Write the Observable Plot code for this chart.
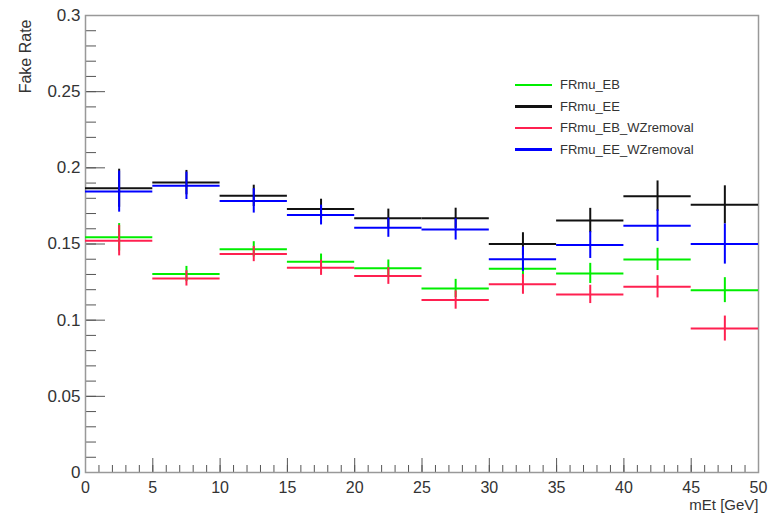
<!DOCTYPE html>
<html>
<head>
<meta charset="utf-8">
<script src="https://cdn.jsdelivr.net/npm/d3@7"></script>
<script src="https://cdn.jsdelivr.net/npm/@observablehq/plot@0.6"></script>
<style>
  html, body { margin: 0; padding: 0; background: #fff; }
  #wrap { position: relative; width: 768px; height: 515px; font-family: "Liberation Sans", Arial, sans-serif; }
  #legend { position: absolute; left: 515px; top: 74px; }
  .row { display: flex; align-items: center; height: 21.5px; }
  .sw { width: 37px; height: 2.5px; margin-right: 8px; }
  .lab { font-size: 13px; color: #333; }
</style>
</head>
<body>
<div id="wrap"></div>
<script>
// Bin lower edges (mEt, GeV), bin width 5
const binLow = [0, 5, 10, 15, 20, 25, 30, 35, 40, 45];
const binWidth = 5;

const seriesNames = ["FRmu_EB", "FRmu_EE", "FRmu_EB_WZremoval", "FRmu_EE_WZremoval"];
const seriesColors = ["#00ee00", "#111111", "#ff2050", "#0000ff"];

const frEB      = [0.1544, 0.1303, 0.1465, 0.1384, 0.1340, 0.1208, 0.1338, 0.1307, 0.1399, 0.1197];
const frEBerr   = [0.0090, 0.0050, 0.0050, 0.0050, 0.0055, 0.0060, 0.0060, 0.0066, 0.0073, 0.0082];
const frEE      = [0.1866, 0.1903, 0.1816, 0.1730, 0.1669, 0.1669, 0.1500, 0.1654, 0.1814, 0.1757];
const frEEerr   = [0.0125, 0.0080, 0.0070, 0.0064, 0.0060, 0.0066, 0.0074, 0.0080, 0.0100, 0.0125];
const frEBwz    = [0.1522, 0.1274, 0.1434, 0.1344, 0.1290, 0.1132, 0.1235, 0.1169, 0.1219, 0.0945];
const frEBwzErr = [0.0100, 0.0050, 0.0050, 0.0050, 0.0055, 0.0060, 0.0065, 0.0060, 0.0073, 0.0082];
const frEEwz    = [0.1844, 0.1882, 0.1783, 0.1690, 0.1607, 0.1596, 0.1400, 0.1493, 0.1620, 0.1500];
const frEEwzErr = [0.0135, 0.0090, 0.0080, 0.0065, 0.0063, 0.0070, 0.0080, 0.0088, 0.0104, 0.0132];

const yMajor = [0, 0.05, 0.1, 0.15, 0.2, 0.25, 0.3];
const yMinor = d3.range(0, 31).map(i => i / 100);
const xMajor = [0, 5, 10, 15, 20, 25, 30, 35, 40, 45, 50];
const xMinor = d3.range(0, 51);

const allVals = [frEB, frEE, frEBwz, frEEwz];
const allErrs = [frEBerr, frEEerr, frEBwzErr, frEEwzErr];

const rows = [];
allVals.forEach((vals, s) => {
  vals.forEach((v, i) => {
    rows.push({
      series: seriesNames[s],
      color: seriesColors[s],
      x1: binLow[i], x2: binLow[i] + binWidth, xc: binLow[i] + binWidth / 2,
      v, lo: v - allErrs[s][i], hi: v + allErrs[s][i]
    });
  });
});

const fmt = d => String(+d.toFixed(2));

const chart = Plot.plot({
  width: 768,
  height: 515,
  marginLeft: 85,
  marginRight: 10,
  marginTop: 15,
  marginBottom: 43,
  style: { fontFamily: "'Liberation Sans', Arial, sans-serif", background: "#fff", color: "#333" },
  x: { domain: [0, 50] },
  y: { domain: [0, 0.3] },
  marks: [
    Plot.axisY({ ticks: yMinor, tickSize: -11, tickFormat: () => "", label: null, stroke: "#555" }),
    Plot.axisY({ ticks: yMajor, tickSize: -20, tickFormat: () => "", label: null, stroke: "#555" }),
    Plot.axisY({ ticks: yMajor, tickSize: 0, tickPadding: 5, tickFormat: fmt, label: null, fontSize: 17, fill: "#333" }),
    Plot.axisX({ ticks: xMinor, tickSize: -7, tickFormat: () => "", label: null, stroke: "#555" }),
    Plot.axisX({ ticks: xMajor, tickSize: 0, tickPadding: 9, tickFormat: fmt, label: null, fontSize: 16, fill: "#333" }),
    Plot.axisX({ ticks: xMajor, tickSize: -14, tickFormat: () => "", label: null, stroke: "#555" }),
    Plot.frame({ stroke: "#999", strokeWidth: 1.5 }),
    Plot.ruleY(rows, { y: "v", x1: "x1", x2: "x2", stroke: "color", strokeWidth: 2 }),
    Plot.ruleX(rows, { x: "xc", y1: "lo", y2: "hi", stroke: "color", strokeWidth: 2 }),
    Plot.text(["mEt [GeV]"], { frameAnchor: "bottom-right", textAnchor: "end", dy: 37, fontSize: 15, fill: "#333" }),
    Plot.text(["Fake Rate"], { frameAnchor: "top-left", rotate: -90, textAnchor: "end", dx: -66, dy: 4, fontSize: 16, fill: "#333" })
  ]
});

const wrap = document.getElementById("wrap");
wrap.appendChild(chart);

const legend = document.createElement("div");
legend.id = "legend";
seriesNames.forEach((name, i) => {
  const row = document.createElement("div");
  row.className = "row";
  const sw = document.createElement("div");
  sw.className = "sw";
  sw.style.background = seriesColors[i];
  const lab = document.createElement("span");
  lab.className = "lab";
  lab.textContent = name;
  row.appendChild(sw);
  row.appendChild(lab);
  legend.appendChild(row);
});
wrap.appendChild(legend);
</script>
</body>
</html>
